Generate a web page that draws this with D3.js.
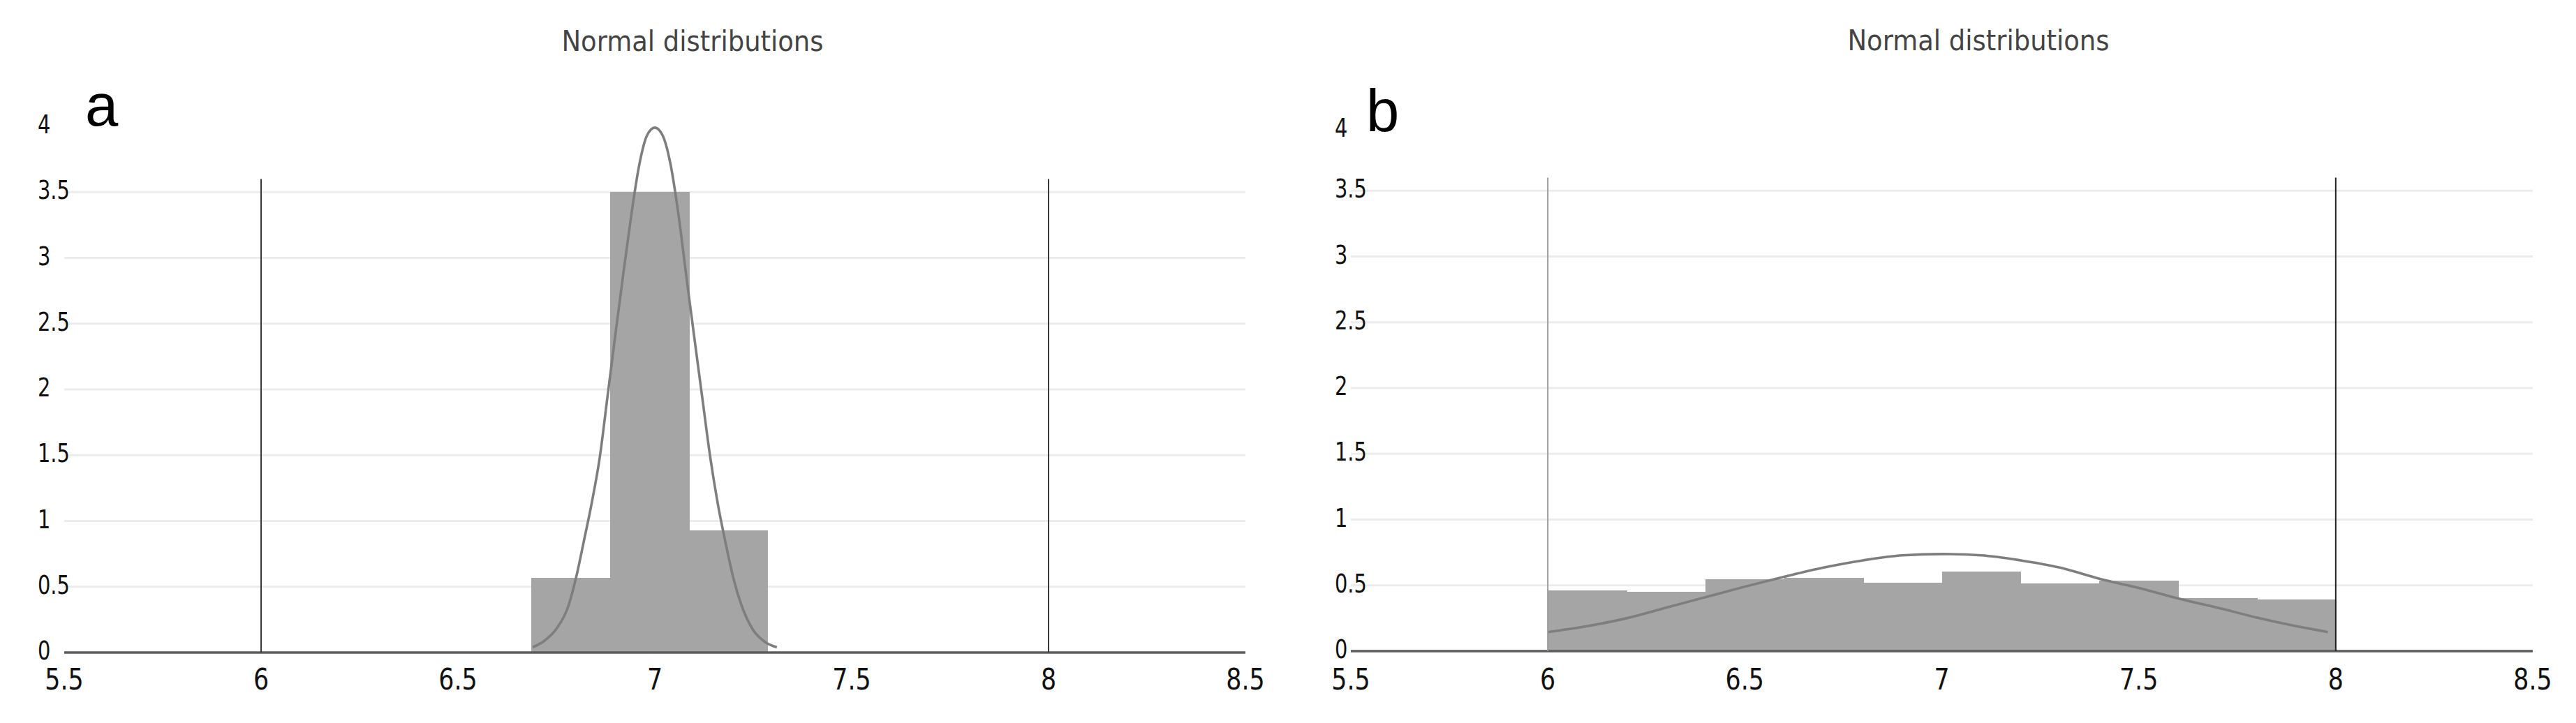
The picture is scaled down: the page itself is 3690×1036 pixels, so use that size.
<!DOCTYPE html>
<html>
<head>
<meta charset="utf-8">
<script src="https://cdn.jsdelivr.net/npm/d3@7"></script>
<style>
  html, body { margin: 0; padding: 0; background: #ffffff; }
  svg { display: block; }
</style>
</head>
<body>
<svg id="chart" width="3690" height="1036"></svg>
<script>
// ---------------- data ----------------
const xTicks = [5.5, 6, 6.5, 7, 7.5, 8, 8.5];
const xTickLabels = ["5.5", "6", "6.5", "7", "7.5", "8", "8.5"];
const yTicks = [0, 0.5, 1, 1.5, 2, 2.5, 3, 3.5, 4];
const yTickLabels = ["0", "0.5", "1", "1.5", "2", "2.5", "3", "3.5", "4"];
const gridValues = [0.5, 1, 1.5, 2, 2.5, 3, 3.5];
const panelLabels = ["a", "b"];
const panelTitles = ["Normal distributions", "Normal distributions"];
const specLimits = [6, 8];
const specLineTop = 3.6;

// panel a histogram
const aBinStart = [6.686, 6.886, 7.087];
const aBinEnd   = [6.886, 7.087, 7.285];
const aBinValue = [0.57, 3.5, 0.93];
// panel a fitted curve
const aCurveX = [6.69, 6.72, 6.75, 6.78, 6.80, 6.82, 6.84, 6.86, 6.88, 6.90, 6.92, 6.94, 6.96, 6.98, 7.00,
                 7.02, 7.04, 7.06, 7.08, 7.10, 7.12, 7.14, 7.16, 7.18, 7.20, 7.22, 7.25, 7.28, 7.31];
const aCurveY = [0.04, 0.09, 0.18, 0.35, 0.57, 0.85, 1.14, 1.48, 1.95, 2.42, 2.88, 3.32, 3.70, 3.93, 3.99,
                 3.93, 3.71, 3.33, 2.86, 2.40, 1.95, 1.50, 1.13, 0.83, 0.56, 0.36, 0.17, 0.08, 0.04];

// panel b histogram
const bBinStart = [6.0, 6.2, 6.4, 6.6, 6.8, 7.0, 7.2, 7.4, 7.6, 7.8];
const bBinEnd   = [6.2, 6.4, 6.6, 6.8, 7.0, 7.2, 7.4, 7.6, 7.8, 8.0];
const bBinValue = [0.462, 0.451, 0.546, 0.559, 0.52, 0.605, 0.515, 0.537, 0.403, 0.393];
// panel b fitted curve
const bCurveX = [6.0, 6.1, 6.2, 6.3, 6.4, 6.5, 6.6, 6.7, 6.8, 6.9, 7.0,
                 7.1, 7.2, 7.3, 7.4, 7.5, 7.6, 7.7, 7.8, 7.9, 7.98];
const bCurveY = [0.145, 0.19, 0.25, 0.33, 0.41, 0.49, 0.565, 0.635, 0.69, 0.728, 0.738,
                 0.728, 0.69, 0.635, 0.55, 0.48, 0.40, 0.33, 0.255, 0.19, 0.145];

// ---------------- drawing ----------------
const svg = d3.select("#chart");
svg.append("rect").attr("width", 3690).attr("height", 1036).attr("fill", "#ffffff");

const panels = [
  { xr: [92, 1784], yr: [935, 181], yLabelX: 54, titleX: 992, titleY: 73, letterX: 122, letterY: 180,
    topLabelShift: 0, binS: aBinStart, binE: aBinEnd, binV: aBinValue, cx: aCurveX, cy: aCurveY,
    specColors: ["#3a3a3a", "#3a3a3a"] },
  { xr: [1935, 3628], yr: [933, 179], yLabelX: 1912, titleX: 2834, titleY: 72, letterX: 1957, letterY: 188,
    topLabelShift: 7, binS: bBinStart, binE: bBinEnd, binV: bBinValue, cx: bCurveX, cy: bCurveY,
    specColors: ["#9a9a9a", "#222222"] }
];

panels.forEach((p, i) => {
  const x = d3.scaleLinear().domain([5.5, 8.5]).range(p.xr);
  const y = d3.scaleLinear().domain([0, 4]).range(p.yr);
  const g = svg.append("g");

  // gridlines
  g.append("g").selectAll("line").data(gridValues).join("line")
    .attr("x1", p.xr[0]).attr("x2", p.xr[1])
    .attr("y1", d => y(d)).attr("y2", d => y(d))
    .attr("stroke", "#ececec").attr("stroke-width", 3);

  // bars
  const bins = p.binS.map((s, k) => ({ s: s, e: p.binE[k], v: p.binV[k] }));
  g.append("g").attr("shape-rendering", "crispEdges")
    .selectAll("rect").data(bins).join("rect")
    .attr("x", d => Math.round(x(d.s)))
    .attr("width", d => Math.round(x(d.e)) - Math.round(x(d.s)) + 1)
    .attr("y", d => y(d.v)).attr("height", d => y(0) - y(d.v))
    .attr("fill", "#a5a5a5");

  // curve
  const pts = p.cx.map((v, k) => [v, p.cy[k]]);
  g.append("path").datum(pts)
    .attr("d", d3.line().x(d => x(d[0])).y(d => y(d[1])).curve(d3.curveMonotoneX))
    .attr("fill", "none").attr("stroke", "#7e7e7e").attr("stroke-width", 3.6);

  // baseline
  g.append("line").attr("x1", p.xr[0]).attr("x2", p.xr[1])
    .attr("y1", y(0)).attr("y2", y(0))
    .attr("stroke", "#5c5c5c").attr("stroke-width", 3.5);

  // spec limit lines
  g.append("g").selectAll("line").data(specLimits).join("line")
    .attr("x1", d => x(d)).attr("x2", d => x(d))
    .attr("y1", y(0)).attr("y2", y(specLineTop))
    .attr("stroke", (d, k) => p.specColors[k]).attr("stroke-width", 2);

  // x tick labels
  g.append("g").selectAll("text").data(xTicks).join("text")
    .attr("transform", d => `translate(${x(d)},988) scale(0.82,1)`)
    .attr("text-anchor", "middle")
    .attr("font-family", "DejaVu Sans, Verdana, sans-serif")
    .attr("font-size", 42.5).attr("fill", "#111")
    .text((d, k) => xTickLabels[k]);

  // y tick labels
  g.append("g").selectAll("text").data(yTicks).join("text")
    .attr("transform", (d, k) => `translate(${p.yLabelX},${y(d) + 10 + (k === yTicks.length - 1 ? p.topLabelShift : 0)}) scale(0.78,1)`)
    .attr("text-anchor", "start")
    .attr("font-family", "DejaVu Sans, Verdana, sans-serif")
    .attr("font-size", 37).attr("fill", "#111")
    .text((d, k) => yTickLabels[k]);

  // title
  g.append("text")
    .attr("x", p.titleX).attr("y", p.titleY)
    .attr("text-anchor", "middle")
    .attr("font-family", "DejaVu Sans, Verdana, sans-serif")
    .attr("font-size", 40).attr("fill", "#444")
    .attr("textLength", 375).attr("lengthAdjust", "spacingAndGlyphs")
    .text(panelTitles[i]);

  // panel letter
  g.append("text")
    .attr("x", p.letterX).attr("y", p.letterY)
    .attr("font-family", "Liberation Sans, Arial, sans-serif")
    .attr("font-size", 85).attr("fill", "#000")
    .text(panelLabels[i]);
});
</script>
</body>
</html>
